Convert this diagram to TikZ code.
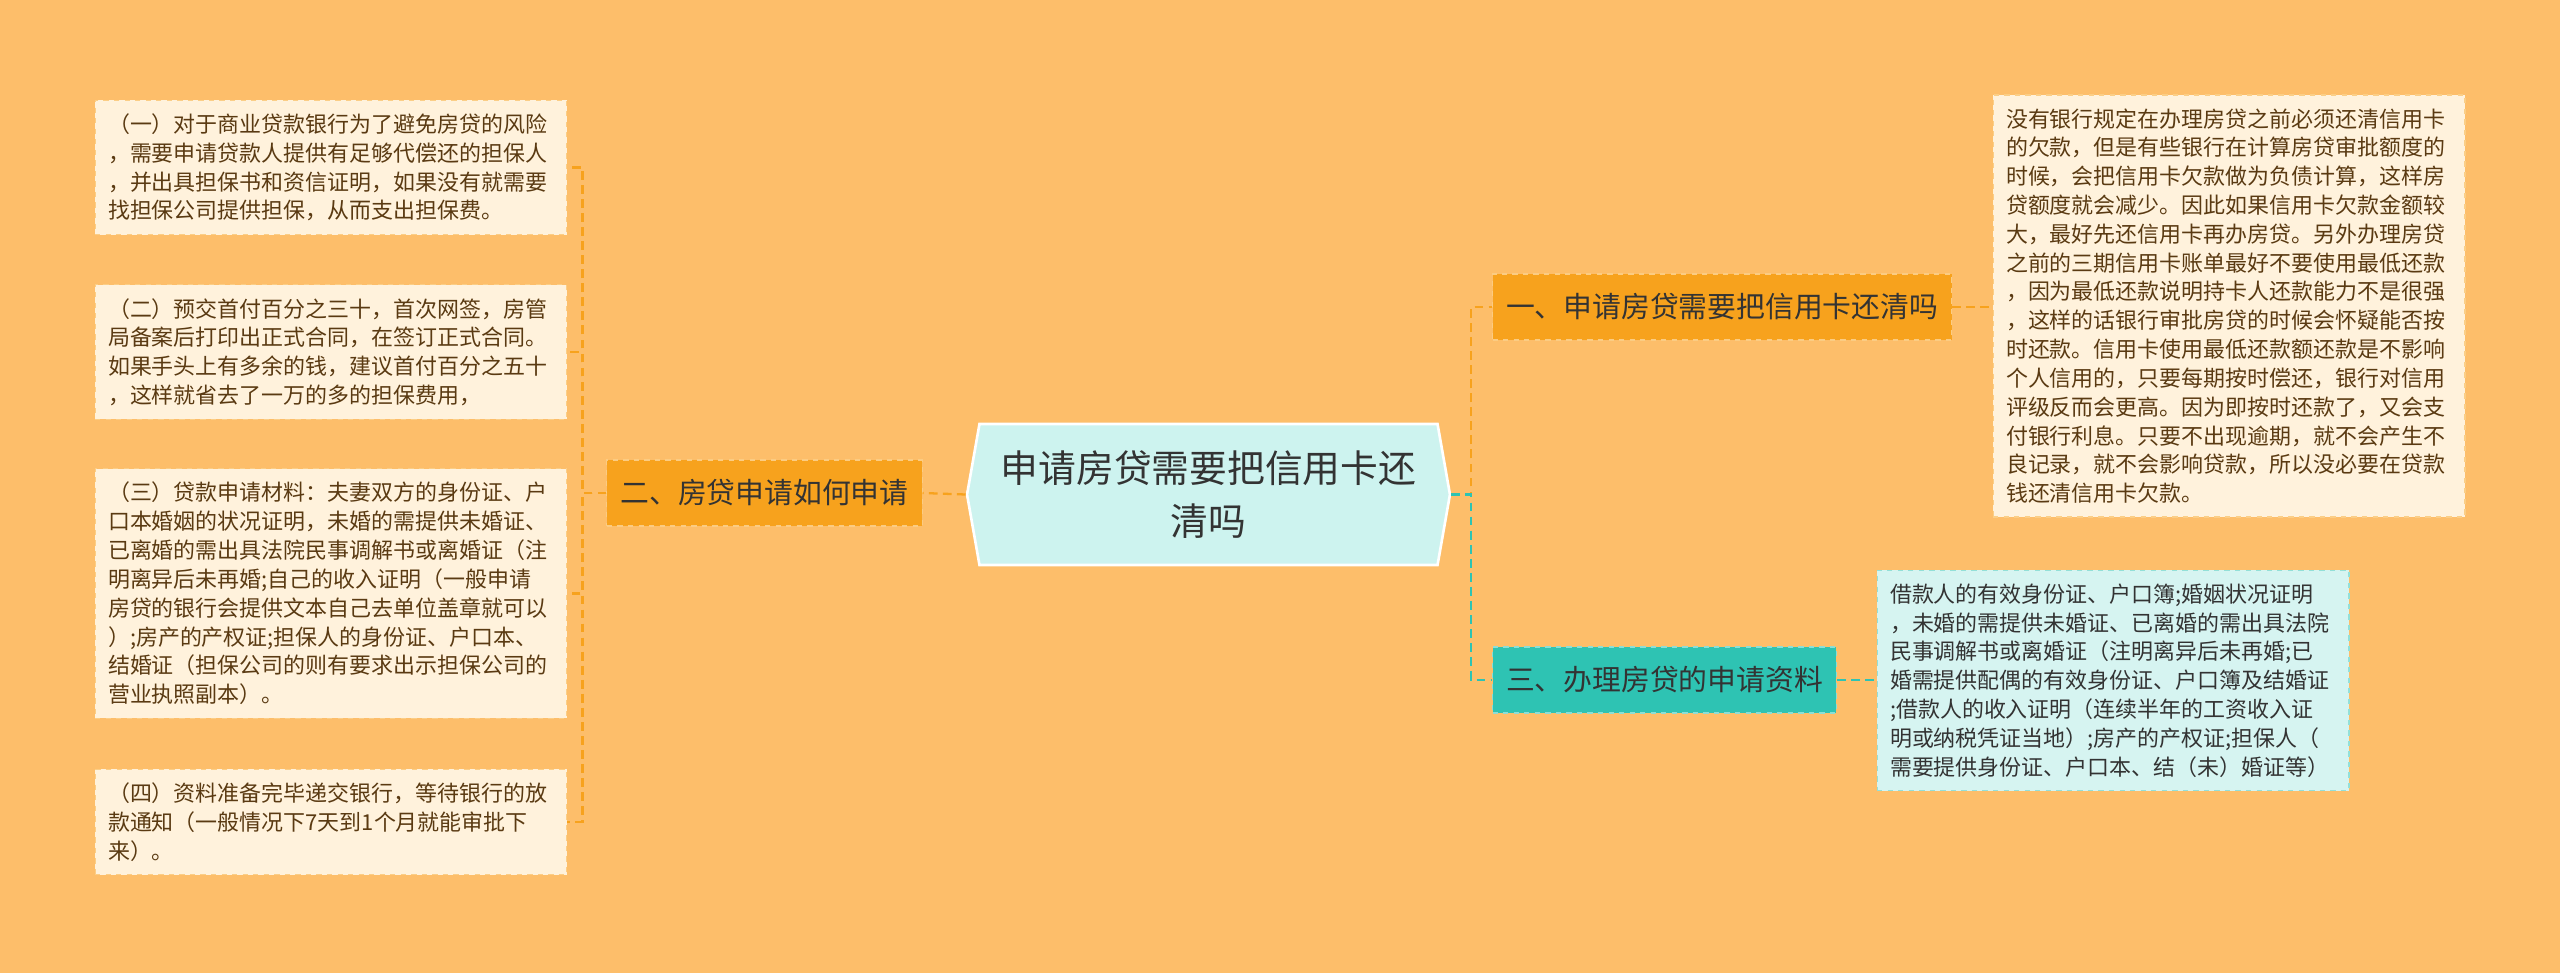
\documentclass[tikz,border=0pt]{standalone}
\usepackage{fontspec}
\setmainfont{Noto Sans CJK SC}
\usetikzlibrary{positioning, shapes.symbols}
\definecolor{bgorange}{HTML}{FDBE6A}
\definecolor{rootcyan}{HTML}{CDF3EF}
\definecolor{branchorange}{HTML}{F7A21D}
\definecolor{branchteal}{HTML}{2EC3B3}
\definecolor{leafcream}{HTML}{FFF2DC}
\definecolor{leafcyan}{HTML}{D6F4F1}
\definecolor{leafbrown}{HTML}{5A3A12}
\definecolor{inkgrey}{HTML}{333333}

\begin{document}
\begin{tikzpicture}[
    x=0.02cm, y=-0.02cm,
    root/.style={shape=signal, signal to=west and east, signal pointer angle=160, fill=rootcyan, draw=white, line width=1.5pt, minimum width=9.66cm, minimum height=2.82cm, align=center, font=\fontsize{21.5}{30.5}\selectfont, text=inkgrey},
    branch/.style={draw=#1!55!white, dashed, line width=0.6pt, fill=#1, inner xsep=0.27cm, minimum height=1.32cm, font=\fontsize{16.4}{20}\selectfont, text=inkgrey},
    leaf/.style={draw=#1, dashed, line width=0.6pt, inner xsep=0.26cm, inner ysep=0.27cm, text width=8.92cm, align=left, font=\fontsize{12.5}{16.4}\selectfont},
    link/.style={draw=#1, line width=1.3pt, dash pattern=on 5pt off 3pt},
]
    % Background
    \fill[bgorange] (0,0) rectangle (2560,973);
    \useasboundingbox (0,0) rectangle (2560,973);

    % Root
    \node[root] (root) at (1208.5,494.5) {申请房贷需要把信用卡还\\清吗};

    % Branches
    \node[branch=branchorange] (b2) at (764.5,493) {二、房贷申请如何申请};
    \node[branch=branchorange, anchor=west] (b1) at (1492,307) {一、申请房贷需要把信用卡还清吗};
    \node[branch=branchteal, anchor=west] (b3) at (1492,680) {三、办理房贷的申请资料};

    % Left leaves
    \node[leaf=branchorange!45!leafcream, fill=leafcream, text=leafbrown] (l1) at (331,167.5) {（一）对于商业贷款银行为了避免房贷的风险\\，需要申请贷款人提供有足够代偿还的担保人\\，并出具担保书和资信证明，如果没有就需要\\找担保公司提供担保，从而支出担保费。};
    \node[leaf=branchorange!45!leafcream, fill=leafcream, text=leafbrown] (l2) at (331,352) {（二）预交首付百分之三十，首次网签，房管\\局备案后打印出正式合同，在签订正式合同。\\如果手头上有多余的钱，建议首付百分之五十\\，这样就省去了一万的多的担保费用，};
    \node[leaf=branchorange!45!leafcream, fill=leafcream, text=leafbrown] (l3) at (331,593.5) {（三）贷款申请材料：夫妻双方的身份证、户\\口本婚姻的状况证明，未婚的需提供未婚证、\\已离婚的需出具法院民事调解书或离婚证（注\\明离异后未再婚;自己的收入证明（一般申请\\房贷的银行会提供文本自己去单位盖章就可以\\）;房产的产权证;担保人的身份证、户口本、\\结婚证（担保公司的则有要求出示担保公司的\\营业执照副本）。};
    \node[leaf=branchorange!45!leafcream, fill=leafcream, text=leafbrown] (l4) at (331,822) {（四）资料准备完毕递交银行，等待银行的放\\款通知（一般情况下7天到1个月就能审批下\\来）。};

    % Right leaves
    \node[leaf=branchorange!45!leafcream, fill=leafcream, text=leafbrown] (r1) at (2229,306) {没有银行规定在办理房贷之前必须还清信用卡\\的欠款，但是有些银行在计算房贷审批额度的\\时候，会把信用卡欠款做为负债计算，这样房\\贷额度就会减少。因此如果信用卡欠款金额较\\大，最好先还信用卡再办房贷。另外办理房贷\\之前的三期信用卡账单最好不要使用最低还款\\，因为最低还款说明持卡人还款能力不是很强\\，这样的话银行审批房贷的时候会怀疑能否按\\时还款。信用卡使用最低还款额还款是不影响\\个人信用的，只要每期按时偿还，银行对信用\\评级反而会更高。因为即按时还款了，又会支\\付银行利息。只要不出现逾期，就不会产生不\\良记录，就不会影响贷款，所以没必要在贷款\\钱还清信用卡欠款。};
    \node[leaf=branchteal!40!leafcyan, fill=leafcyan, text=inkgrey] (r3) at (2113,680.5) {借款人的有效身份证、户口簿;婚姻状况证明\\，未婚的需提供未婚证、已离婚的需出具法院\\民事调解书或离婚证（注明离异后未再婚;已\\婚需提供配偶的有效身份证、户口簿及结婚证\\;借款人的收入证明（连续半年的工资收入证\\明或纳税凭证当地）;房产的产权证;担保人（\\需要提供身份证、户口本、结（未）婚证等）};

    % Links
    \draw[link=branchorange] (root.west) -- (b2.east);
    \draw[link=branchorange] (b2.west) -- ++(-24,0) |- (l1.east);
    \draw[link=branchorange] (b2.west) -- ++(-24,0) |- (l2.east);
    \draw[link=branchorange] (b2.west) -- ++(-24,0) |- (l3.east);
    \draw[link=branchorange] (b2.west) -- ++(-24,0) |- (l4.east);
    \draw[link=branchorange] (root.east) -- ++(20,0) |- (b1.west);
    \draw[link=branchteal] (root.east) -- ++(20,0) |- (b3.west);
    \draw[link=branchorange] (b1.east) -- (b1.east -| r1.west);
    \draw[link=branchteal] (b3.east) -- (b3.east -| r3.west);

\end{tikzpicture}
\end{document}
